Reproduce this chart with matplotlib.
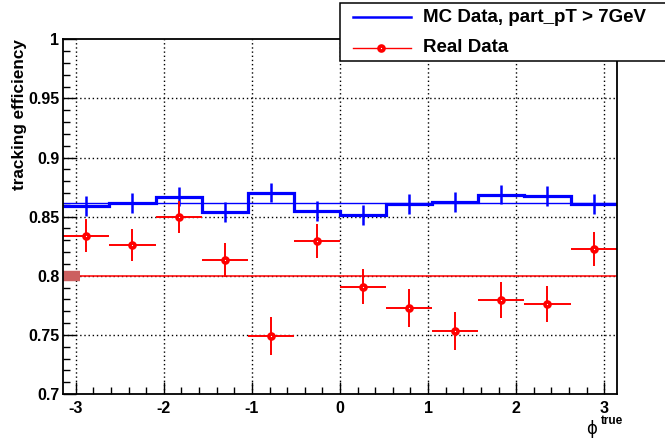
import numpy as np
import matplotlib
matplotlib.use("Agg")
import matplotlib.pyplot as plt
from matplotlib.lines import Line2D
from matplotlib.patches import Rectangle
from matplotlib.ticker import MultipleLocator

# ---- data ----
n_bins = 12
edges = np.linspace(-np.pi, np.pi, n_bins + 1)
centers = 0.5 * (edges[:-1] + edges[1:])
half_w = 0.5 * (edges[1] - edges[0])

mc_eff = [0.8592, 0.8618, 0.8668, 0.8542, 0.8702, 0.8550,
          0.8514, 0.8607, 0.8626, 0.8685, 0.8677, 0.8607]
mc_err = [0.0083, 0.0084, 0.0082, 0.0084, 0.0082, 0.0084,
          0.0085, 0.0083, 0.0083, 0.0082, 0.0083, 0.0085]
mc_fit = 0.8618

real_eff = [0.8340, 0.8260, 0.8500, 0.8133, 0.7490, 0.8294,
            0.7907, 0.7727, 0.7532, 0.7794, 0.7760, 0.8226]
real_err = [0.0140, 0.0137, 0.0135, 0.0140, 0.0162, 0.0142,
            0.0150, 0.0163, 0.0163, 0.0155, 0.0155, 0.0147]
real_fit = 0.800

xticks = [-3, -2, -1, 0, 1, 2, 3]
yticks = [0.7, 0.75, 0.8, 0.85, 0.9, 0.95, 1.0]
ytick_labels = ["0.7", "0.75", "0.8", "0.85", "0.9", "0.95", "1"]

plt.rcParams['font.family'] = ['Liberation Sans', 'DejaVu Sans']
plt.rcParams['font.weight'] = 'bold'

fig = plt.figure(figsize=(6.65, 4.38), dpi=100)
fig.patch.set_facecolor('white')
ax = fig.add_axes([0.0952, 0.1005, 0.8321, 0.8098])

ax.set_xlim(-np.pi, np.pi)
ax.set_ylim(0.7, 1.0)

# grid
for x in xticks:
    ax.axvline(x, color='black', lw=1.0, ls=(0, (1, 2)), zorder=1)
for y in yticks[1:-1]:
    ax.axhline(y, color='black', lw=1.0, ls=(0, (1, 2)), zorder=1)

# MC histogram
ax.stairs(mc_eff, edges, color='#0000ff', lw=2.3, zorder=3, baseline=None)
ax.errorbar(centers, mc_eff, yerr=mc_err, fmt='none', ecolor='#0000ff',
            elinewidth=1.8, capsize=0, zorder=3)
ax.axhline(mc_fit, color='#0000ff', lw=1.0, zorder=2)

# real data
ax.axhline(real_fit, color='#ff0000', lw=1.1, zorder=2)
ax.plot([-np.pi, -np.pi + 0.19], [real_fit, real_fit], color='#cc6060',
        lw=7.5, solid_capstyle='butt', zorder=4, clip_on=False)
ax.errorbar(centers, real_eff, xerr=half_w, yerr=real_err, fmt='o',
            color='#ff0000', ecolor='#ff0000', elinewidth=1.4, capsize=0,
            ms=3.6, mfc='white', mec='#ff0000', mew=2.6, zorder=5)

# axes style
ax.set_xticks(xticks)
ax.set_xticklabels([str(x) for x in xticks])
ax.set_yticks(yticks)
ax.set_yticklabels(ytick_labels)
ax.xaxis.set_minor_locator(MultipleLocator(0.2))
ax.yaxis.set_minor_locator(MultipleLocator(0.01))
ax.tick_params(axis='both', which='major', direction='in', length=9, width=1.0,
               labelsize=11.5, top=False, right=False)
ax.tick_params(axis='both', which='minor', direction='in', length=5, width=1.0,
               top=False, right=False)
ax.tick_params(axis='y', pad=3)
ax.tick_params(axis='x', pad=5)
for lab in ax.get_xticklabels() + ax.get_yticklabels():
    lab.set_fontweight('bold')
for sp in ax.spines.values():
    sp.set_linewidth(1.3)
    sp.set_zorder(6)

ax.set_ylabel('tracking efficiency', fontsize=12.3, fontweight='bold',
              loc='top', labelpad=1)

# x label: phi^true
fig.text(597 / 665, 1 - 429 / 438, 'ϕ', fontsize=12, fontweight='normal',
         ha='right', va='center', family=['DejaVu Sans'])
fig.text(601 / 665, 1 - 421 / 438, 'true', fontsize=8.5, fontweight='bold',
         ha='left', va='center')

# legend (drawn manually, ROOT style)
lx0, ly0, ly1 = 340 / 665, 1 - 61 / 438, 1 - 3 / 438
fig.add_artist(Rectangle((lx0, ly0), 0.6, ly1 - ly0, transform=fig.transFigure,
                         facecolor='white', edgecolor='black', lw=1.1,
                         zorder=10, clip_on=False))
y_mc = 1 - 17.3 / 438
y_rd = 1 - 47.7 / 438
fig.add_artist(Line2D([352.5 / 665, 411 / 665], [y_mc, y_mc], color='#0000ff',
                      lw=1.8, transform=fig.transFigure, zorder=11))
fig.add_artist(Line2D([352.5 / 665, 411 / 665], [y_rd, y_rd], color='#ff0000',
                      lw=1.0, transform=fig.transFigure, zorder=11))
fig.add_artist(Line2D([380.7 / 665], [y_rd], color='#ff0000', marker='o',
                      ms=3.6, mfc='white', mec='#ff0000', mew=2.6,
                      transform=fig.transFigure, zorder=12))
fig.text(423 / 665, y_mc, 'MC Data, part_pT > 7GeV', fontsize=13.5,
         fontweight='bold', ha='left', va='center', zorder=12)
fig.text(423 / 665, y_rd, 'Real Data', fontsize=13.5,
         fontweight='bold', ha='left', va='center', zorder=12)

fig.savefig('out.png', dpi=100, facecolor='white')
